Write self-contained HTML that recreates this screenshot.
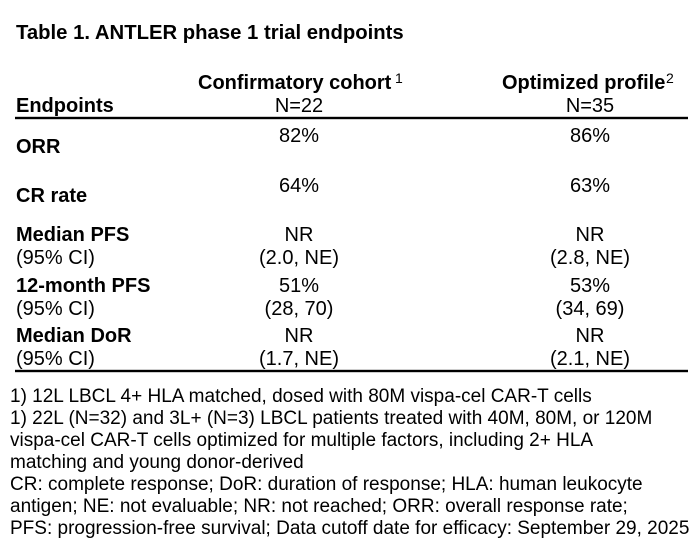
<!DOCTYPE html>
<html>
<head>
<meta charset="utf-8">
<style>
  html, body { margin: 0; padding: 0; background: #ffffff; }
  body { width: 700px; height: 560px; overflow: hidden; }
  svg { display: block; }
  text { font-family: "Liberation Sans", Arial, sans-serif; fill: #000; }
  .t { font-weight: bold; font-size: 20.3px; }
  .b { font-weight: bold; font-size: 20px; }
  .r { font-size: 20px; }
  .f { font-size: 19px; }
  .s { font-size: 14px; }
</style>
</head>
<body>
<svg width="700" height="560" viewBox="0 0 700 560" xmlns="http://www.w3.org/2000/svg">
  <rect x="0" y="0" width="700" height="560" fill="#ffffff"/>

  <!-- Title -->
  <text class="t" x="16" y="39">Table 1. ANTLER phase 1 trial endpoints</text>

  <!-- Header -->
  <text class="b" x="198" y="89">Confirmatory cohort</text>
  <text class="s" x="395" y="83">1</text>
  <text class="b" x="502" y="89">Optimized profile</text>
  <text class="s" x="666" y="83">2</text>

  <text class="b" x="16" y="112">Endpoints</text>
  <text class="r" x="299" y="112" text-anchor="middle">N=22</text>
  <text class="r" x="590" y="112" text-anchor="middle">N=35</text>

  <rect x="15" y="116.8" width="673" height="2.4" fill="#000"/>

  <!-- ORR -->
  <text class="b" x="16" y="153">ORR</text>
  <text class="r" x="299" y="142" text-anchor="middle">82%</text>
  <text class="r" x="590" y="142" text-anchor="middle">86%</text>

  <!-- CR rate -->
  <text class="b" x="16" y="202">CR rate</text>
  <text class="r" x="299" y="192" text-anchor="middle">64%</text>
  <text class="r" x="590" y="192" text-anchor="middle">63%</text>

  <!-- Median PFS -->
  <text class="b" x="16" y="241">Median PFS</text>
  <text class="r" x="16" y="264">(95% CI)</text>
  <text class="r" x="299" y="241" text-anchor="middle">NR</text>
  <text class="r" x="299" y="264" text-anchor="middle">(2.0, NE)</text>
  <text class="r" x="590" y="241" text-anchor="middle">NR</text>
  <text class="r" x="590" y="264" text-anchor="middle">(2.8, NE)</text>

  <!-- 12-month PFS -->
  <text class="b" x="16" y="292">12-month PFS</text>
  <text class="r" x="16" y="315">(95% CI)</text>
  <text class="r" x="299" y="292" text-anchor="middle">51%</text>
  <text class="r" x="299" y="315" text-anchor="middle">(28, 70)</text>
  <text class="r" x="590" y="292" text-anchor="middle">53%</text>
  <text class="r" x="590" y="315" text-anchor="middle">(34, 69)</text>

  <!-- Median DoR -->
  <text class="b" x="16" y="342">Median DoR</text>
  <text class="r" x="16" y="365">(95% CI)</text>
  <text class="r" x="299" y="342" text-anchor="middle">NR</text>
  <text class="r" x="299" y="365" text-anchor="middle">(1.7, NE)</text>
  <text class="r" x="590" y="342" text-anchor="middle">NR</text>
  <text class="r" x="590" y="365" text-anchor="middle">(2.1, NE)</text>

  <rect x="15" y="369.8" width="673" height="2.4" fill="#000"/>

  <!-- Footnotes -->
  <text class="f" x="10" y="402">1) 12L LBCL 4+ HLA matched, dosed with 80M vispa-cel CAR-T cells</text>
  <text class="f" x="10" y="424">1) 22L (N=32) and 3L+ (N=3) LBCL patients treated with 40M, 80M, or 120M</text>
  <text class="f" x="10" y="446">vispa-cel CAR-T cells optimized for multiple factors, including 2+ HLA</text>
  <text class="f" x="10" y="468">matching and young donor-derived</text>
  <text class="f" x="10" y="490">CR: complete response; DoR: duration of response; HLA: human leukocyte</text>
  <text class="f" x="10" y="512">antigen; NE: not evaluable; NR: not reached; ORR: overall response rate;</text>
  <text class="f" x="10" y="534">PFS: progression-free survival; Data cutoff date for efficacy: September 29, 2025</text>
</svg>
</body>
</html>
